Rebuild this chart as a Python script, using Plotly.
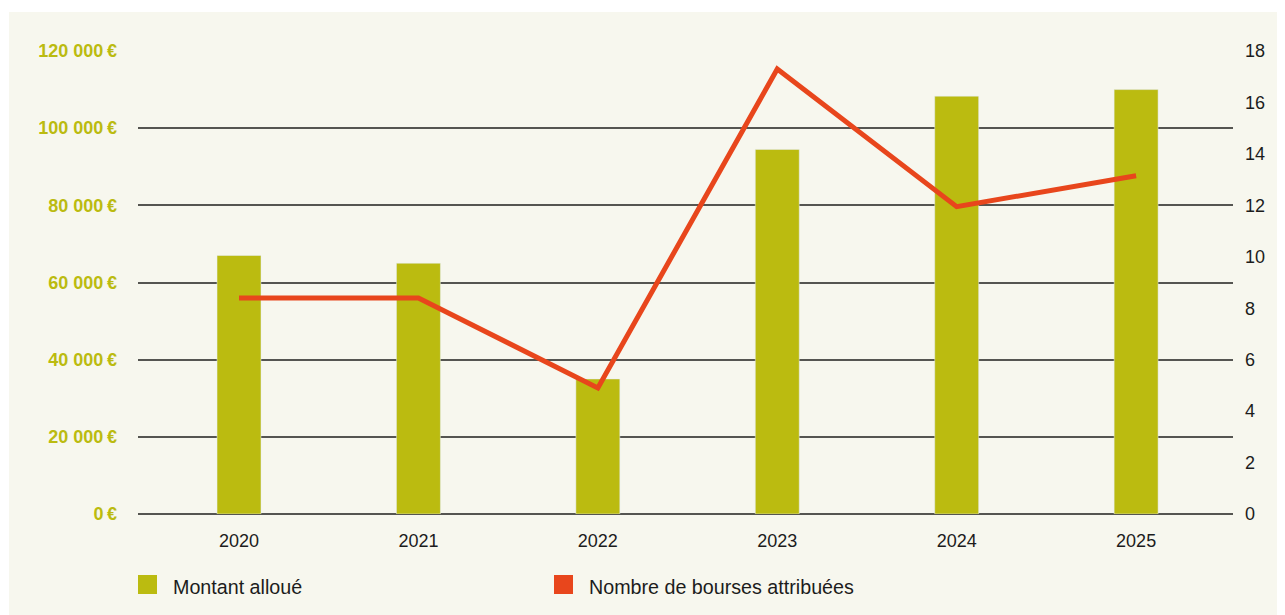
import plotly.graph_objects as go

years = ["2020", "2021", "2022", "2023", "2024", "2025"]
montant = [67000, 65000, 35000, 94500, 108300, 110000]
bourses = [8.4, 8.4, 4.9, 17.3, 11.95, 13.15]
left_ticks = [0, 20000, 40000, 60000, 80000, 100000, 120000]
left_labels = ["0\u2009€", "20 000\u2009€", "40 000\u2009€", "60 000\u2009€",
               "80 000\u2009€", "100 000\u2009€", "120 000\u2009€"]
right_ticks = [0, 2, 4, 6, 8, 10, 12, 14, 16, 18]
legend_names = ["Montant alloué", "Nombre de bourses attribuées"]

OLIVE = "#BBBB10"
RED = "#E8461C"
BG = "#F7F7EE"
TXT = "#1c1c1c"
FONT = "Liberation Sans, Arial, sans-serif"

OFF = 8  # page body margin in the browser
W, H = 1285 - OFF, 615 - OFF
L, R, T, B = 138 - OFF, 1233 - OFF, 51 - OFF, 514 - OFF

def px_x(p):
    p -= OFF
    return (p - L) / (R - L)

def px_y(p):
    p -= OFF
    return (B - p) / (B - T)

fig = go.Figure()
fig.add_trace(go.Bar(x=years, y=montant, marker_color=OLIVE, width=0.245,
                     name=legend_names[0], showlegend=False, yaxis="y"))
fig.add_trace(go.Scatter(x=years, y=bourses, mode="lines", name=legend_names[1],
                         line=dict(color=RED, width=5), showlegend=False, yaxis="y2"))

shapes = [
    dict(type="rect", xref="paper", yref="paper", x0=px_x(9), x1=px_x(1300),
         y0=px_y(630), y1=px_y(12), fillcolor=BG, line_width=0, layer="below"),
    dict(type="rect", xref="paper", yref="paper", x0=px_x(138), x1=px_x(157),
         y0=px_y(594), y1=px_y(575), fillcolor=OLIVE, line_width=0),
    dict(type="rect", xref="paper", yref="paper", x0=px_x(554), x1=px_x(573),
         y0=px_y(594), y1=px_y(575), fillcolor=RED, line_width=0),
]
annotations = [
    dict(xref="paper", yref="paper", x=px_x(171), y=px_y(587), text=legend_names[0],
         showarrow=False, xanchor="left", yanchor="middle",
         font=dict(family=FONT, size=19.7, color=TXT)),
    dict(xref="paper", yref="paper", x=px_x(587), y=px_y(587), text=legend_names[1],
         showarrow=False, xanchor="left", yanchor="middle",
         font=dict(family=FONT, size=19.7, color=TXT)),
]

fig.update_layout(
    width=W, height=H,
    margin=dict(l=L, r=W - R, t=T, b=H - B, pad=0),
    paper_bgcolor="white",
    plot_bgcolor="rgba(0,0,0,0)",
    shapes=shapes,
    annotations=annotations,
    showlegend=False,
    xaxis=dict(type="category", range=[-0.563, 5.54], showgrid=False,
               zeroline=False, showline=False, ticks="",
               tickfont=dict(family=FONT, size=18, color=TXT),
               ticklabelstandoff=14),
    yaxis=dict(range=[0, 120000], tickvals=left_ticks, ticktext=left_labels,
               showgrid=True, gridcolor="#555551", gridwidth=1.5,
               zeroline=True, zerolinecolor="#555551", zerolinewidth=1.5,
               showline=False, ticks="",
               tickfont=dict(family=FONT, size=18, color=OLIVE, weight="bold"),
               ticklabelstandoff=20),
    yaxis2=dict(range=[0, 18], tickvals=right_ticks, overlaying="y", side="right",
                showgrid=False, zeroline=False, showline=False, ticks="",
                tickfont=dict(family=FONT, size=18, color=TXT),
                ticklabelstandoff=11),
)

fig.write_html("out.html")
